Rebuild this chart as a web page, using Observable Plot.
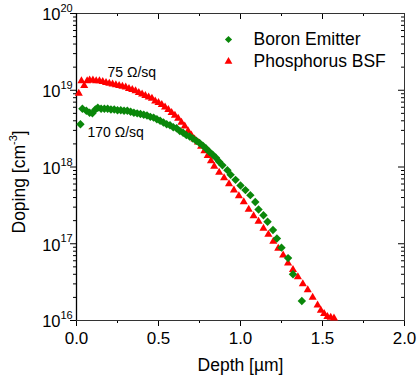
<!DOCTYPE html>
<html><head><meta charset="utf-8">
<script src="https://cdn.jsdelivr.net/npm/d3@7"></script>
<script src="https://cdn.jsdelivr.net/npm/@observablehq/plot@0.6"></script>
<style>
body{margin:0;background:#fff;}
#chart svg{font-family:"Liberation Sans",Arial,sans-serif;}
</style>
</head><body><div id="chart"></div><script>
// ---- data ----
const boronDepth = [0.024,0.036,0.06,0.08,0.097,0.115,0.13,0.15,0.17,0.19,0.21,0.23,0.25,0.27,0.29,0.31,0.33,0.35,0.37,0.39,0.41,0.43,0.45,0.47,0.49,0.51,0.53,0.55,0.57,0.59,0.61,0.63,0.65,0.67,0.69,0.71,0.73,0.75,0.77,0.79,0.81,0.83,0.85,0.87,0.89,0.92,0.94,0.97,1.00,1.03,1.06,1.09,1.11,1.14,1.165,1.198,1.222,1.25,1.29,1.32,1.374];
const boronDoping = [3.6e18,5.75e18,5.4e18,5.1e18,5.0e18,5.6e18,5.9e18,5.75e18,5.75e18,5.75e18,5.6e18,5.6e18,5.5e18,5.5e18,5.4e18,5.4e18,5.25e18,5.1e18,5.0e18,4.9e18,4.8e18,4.7e18,4.5e18,4.4e18,4.2e18,4.0e18,3.8e18,3.6e18,3.5e18,3.3e18,3.2e18,2.95e18,2.8e18,2.6e18,2.5e18,2.35e18,2.2e18,2.05e18,1.9e18,1.74e18,1.58e18,1.45e18,1.32e18,1.17e18,1.05e18,9.1e17,7.9e17,6.8e17,5.75e17,5.0e17,4.3e17,3.5e17,2.8e17,2.35e17,1.93e17,1.51e17,1.17e17,8.9e16,6.5e16,4.0e16,1.8e16];
const phosDepth = [0.014,0.03,0.047,0.065,0.08,0.10,0.12,0.14,0.16,0.18,0.20,0.22,0.24,0.26,0.28,0.30,0.32,0.34,0.36,0.38,0.40,0.42,0.44,0.46,0.48,0.50,0.52,0.54,0.56,0.58,0.60,0.62,0.64,0.66,0.68,0.70,0.72,0.74,0.76,0.78,0.80,0.82,0.84,0.87,0.90,0.93,0.96,0.99,1.02,1.05,1.08,1.11,1.14,1.17,1.20,1.23,1.26,1.29,1.32,1.35,1.38,1.41,1.44,1.47,1.49,1.51,1.53,1.55,1.57];
const phosDoping = [9.1e18,1.32e19,1.15e19,1.32e19,1.35e19,1.35e19,1.32e19,1.32e19,1.29e19,1.26e19,1.23e19,1.20e19,1.17e19,1.15e19,1.12e19,1.10e19,1.05e19,1.02e19,9.8e18,9.3e18,8.9e18,8.5e18,8.1e18,7.8e18,7.2e18,6.9e18,6.5e18,6.0e18,5.6e18,5.1e18,4.7e18,4.3e18,3.8e18,3.4e18,2.95e18,2.6e18,2.3e18,2.1e18,1.86e18,1.62e18,1.41e18,1.20e18,1.02e18,8.5e17,7.2e17,6.0e17,5.0e17,4.2e17,3.5e17,2.8e17,2.3e17,1.95e17,1.58e17,1.32e17,1.07e17,8.7e16,7.1e16,5.6e16,4.6e16,3.7e16,3.0e16,2.5e16,2.0e16,1.58e16,1.35e16,1.23e16,1.12e16,1.10e16,1.07e16];
const seriesNames = ["Boron Emitter", "Phosphorus BSF"];
const xTicks = [0, 0.5, 1, 1.5, 2];
const xMinorTicks = [0.25, 0.75, 1.25, 1.75];
const yExponents = [16, 17, 18, 19, 20];
const annotations = ["75 Ω/sq", "170 Ω/sq"];
const xTitle = "Depth [µm]";
const yTitleParts = ["Doping [cm", "-3", "]"];

// ---- build ----
const boron = boronDepth.map((d, i) => ({depth: d, doping: boronDoping[i]}));
const phos = phosDepth.map((d, i) => ({depth: d, doping: phosDoping[i]}));
const yDecades = yExponents.map(e => Math.pow(10, e));
const yMinor = [];
yExponents.slice(0, -1).forEach(e => { for (let m = 2; m <= 9; m++) yMinor.push(m * Math.pow(10, e)); });

const W = 419, H = 381, mL = 76, mR = 15, mT = 13, mB = 61;
const innerW = W - mL - mR, innerH = H - mT - mB;
const GREEN = "#0a870a", RED = "#ff0000";
const FONT = '"Liberation Sans", Arial, sans-serif';

const ctx = document.createElement("canvas").getContext("2d");
function tw(s, size) { ctx.font = `${size}px ${FONT}`; return ctx.measureText(s).width; }

const titleSize = 17.5, supSize = 11;
const yTitleBottom = 233 - (mT + innerH / 2);  // dy offset from frame middle
const yTitleX = 19 - mL;
const w1 = tw(yTitleParts[0], titleSize), w2 = tw(yTitleParts[1], supSize);

const chart = Plot.plot({
  width: W, height: H,
  marginLeft: mL, marginRight: mR, marginTop: mT, marginBottom: mB,
  style: {fontFamily: FONT, background: "#fff", color: "#000"},
  x: {domain: [0, 2]},
  y: {type: "log", domain: [1e16, 1e20]},
  marks: [
    // bottom axis (outward ticks)
    Plot.axisX(xTicks, {anchor: "bottom", tickSize: 6, tickPadding: 5, tickFormat: d => d.toFixed(1), fontSize: 17, label: null}),
    Plot.axisX(xMinorTicks, {anchor: "bottom", tickSize: 3, tickFormat: () => "", label: null}),
    // top (inward ticks)
    Plot.tickX(xTicks, {x: d => d, insetBottom: innerH - 6}),
    Plot.tickX(xMinorTicks, {x: d => d, insetBottom: innerH - 3}),
    // left axis (outward ticks)
    Plot.axisY(yDecades, {anchor: "left", tickSize: 6, tickFormat: () => "", label: null}),
    Plot.axisY(yMinor, {anchor: "left", tickSize: 3, tickFormat: () => "", label: null}),
    // right (inward ticks)
    Plot.tickY(yDecades, {y: d => d, insetLeft: innerW - 6}),
    Plot.tickY(yMinor, {y: d => d, insetLeft: innerW - 3}),
    // y tick labels 10^n
    Plot.text(yDecades, {y: d => d, frameAnchor: "left", text: () => "10", textAnchor: "end", lineAnchor: "middle", dx: -16, dy: 1.5, fontSize: 16.5}),
    Plot.text(yDecades, {y: d => d, frameAnchor: "left", text: (d, i) => String(yExponents[i]), textAnchor: "start", lineAnchor: "middle", dx: -16, dy: -5, fontSize: supSize}),
    // frame
    Plot.frame({stroke: "#333"}),
    Plot.ruleX([0], {stroke: "#000", strokeWidth: 1.3}),
    // data
    Plot.dot(phos, {x: "depth", y: "doping", symbol: "triangle", r: 3, fill: RED}),
    Plot.dot(boron, {x: "depth", y: "doping", symbol: "diamond2", r: 3.8, fill: GREEN}),
    // annotations
    Plot.text([annotations[0]], {frameAnchor: "top-left", dx: 31, dy: 59, textAnchor: "start", lineAnchor: "middle", fontSize: 14}),
    Plot.text([annotations[1]], {frameAnchor: "top-left", dx: 11, dy: 119, textAnchor: "start", lineAnchor: "middle", fontSize: 14}),
    // legend
    Plot.dot([seriesNames[0]], {frameAnchor: "top-left", dx: 152, dy: 26, symbol: "diamond2", r: 3.2, fill: GREEN}),
    Plot.dot([seriesNames[1]], {frameAnchor: "top-left", dx: 152, dy: 48, symbol: "triangle", r: 2.9, fill: RED}),
    Plot.text([seriesNames[0]], {frameAnchor: "top-left", dx: 177, dy: 26, textAnchor: "start", lineAnchor: "middle", fontSize: 17.5}),
    Plot.text([seriesNames[1]], {frameAnchor: "top-left", dx: 177, dy: 48, textAnchor: "start", lineAnchor: "middle", fontSize: 17.5}),
    // axis titles
    Plot.text([xTitle], {frameAnchor: "bottom", dy: 38, lineAnchor: "top", fontSize: titleSize}),
    Plot.text([yTitleParts[0]], {frameAnchor: "left", dx: yTitleX, dy: yTitleBottom, rotate: -90, textAnchor: "start", lineAnchor: "middle", fontSize: titleSize}),
    Plot.text([yTitleParts[1]], {frameAnchor: "left", dx: yTitleX - 6, dy: yTitleBottom - w1, rotate: -90, textAnchor: "start", lineAnchor: "middle", fontSize: supSize}),
    Plot.text([yTitleParts[2]], {frameAnchor: "left", dx: yTitleX, dy: yTitleBottom - w1 - w2, rotate: -90, textAnchor: "start", lineAnchor: "middle", fontSize: titleSize})
  ]
});
document.getElementById("chart").appendChild(chart);
</script></body></html>
